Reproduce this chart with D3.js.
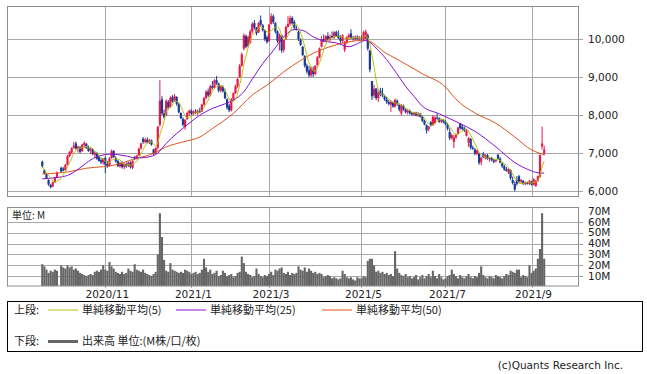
<!DOCTYPE html>
<html>
<head>
<meta charset="utf-8">
<script src="https://cdn.jsdelivr.net/npm/d3@7"></script>
<style>
  body { margin: 0; background: #fff; }
  svg text { font-family: "DejaVu Sans", sans-serif; fill: #222; }
  svg text.jp { font-family: "Noto Sans CJK JP", sans-serif; }
</style>
</head>
<body>
<svg id="chart" width="647" height="374"></svg>
<script>
// ======================
// DATA
// ======================

// daily candles [open, high, low, close]; day 8 = 2020/10/1, no trading
const candles = [
  [6780,6810,6620,6660],[6560,6580,6450,6480],[6460,6470,6330,6350],[6300,6320,6150,6180],
  [6170,6200,6080,6110],[6130,6260,6110,6240],[6240,6370,6220,6350],[6380,6520,6360,6500],
  null,[6620,6650,6500,6520],[6600,6640,6530,6550],[6560,6720,6540,6700],
  [6700,6960,6690,6930],[6930,7060,6900,7040],[7020,7160,6990,7140],[7150,7300,7120,7200],
  [7260,7310,7100,7120],[7120,7200,7020,7180],[7160,7190,7000,7040],[7060,7250,7040,7230],
  [7220,7310,7150,7280],[7250,7270,7120,7140],[7150,7200,7040,7060],[7080,7150,6980,7120],
  [7100,7130,6950,6980],[6960,7050,6880,7020],[7000,7040,6830,6860],[6900,6950,6780,6800],
  [6820,6870,6720,6760],[6760,6880,6700,6850],[6880,6920,6480,6700],[6720,6800,6620,6660],
  [6680,6900,6650,6870],[6880,7100,6860,7060],[7060,7090,6880,6900],[6880,6920,6760,6790],
  [6800,6830,6640,6660],[6660,6780,6620,6750],[6740,6800,6600,6640],[6640,6750,6580,6720],
  [6720,6760,6620,6660],[6680,6790,6640,6760],[6760,6790,6600,6640],[6620,6820,6580,6800],
  [6900,6930,6820,6850],[6860,6960,6840,6940],[6950,7150,6930,7120],[7130,7280,7100,7260],
  [7380,7430,7250,7300],[7300,7400,7260,7360],[7360,7420,7260,7290],[7300,7380,7240,7340],
  [7340,7360,7200,7230],[7100,7120,6960,6990],[7000,7160,6980,7140],[7150,7720,7100,7700],
  [7750,8920,7700,8380],[8420,8500,8000,8050],[8050,8150,7900,7950],[8000,8420,7980,8380],
  [8350,8400,8150,8200],[8220,8500,8200,8460],[8480,8530,8330,8360],[8380,8560,8350,8500],
  [8480,8500,8250,8300],[8300,8320,8050,8080],[8060,8080,7900,7920],[7900,7950,7700,7750],
  [7700,7900,7620,7880],[7900,8100,7880,8060],[8060,8150,7990,8120],[8120,8160,8000,8040],
  [8040,8130,7990,8100],[8100,8160,8030,8060],[8060,8150,8000,8120],[8120,8200,8050,8080],
  [8100,8300,8080,8280],[8280,8480,8250,8450],[8450,8660,8420,8620],[8620,8700,8480,8520],
  [8530,8800,8500,8760],[8770,8900,8680,8720],[8720,8950,8700,8920],[8920,9030,8800,8840],
  [8830,8860,8600,8650],[8650,8790,8600,8760],[8750,8780,8600,8630],[8620,8700,8420,8450],
  [8420,8450,8150,8200],[8250,8300,8080,8130],[8130,8450,8100,8420],[8420,8600,8400,8580],
  [8580,8800,8560,8760],[8760,8980,8720,8950],[9000,9350,8980,9300],[9300,9650,9280,9600],
  [9750,10150,9700,10100],[10080,10120,9760,9800],[9820,10100,9780,10050],[9900,10250,9880,10200],
  [10200,10450,10150,10400],[10420,10500,10250,10300],[10300,10320,10100,10150],[10180,10450,10160,10420],
  [10500,10620,10350,10380],[10360,10400,10200,10230],[10220,10260,9950,10000],[10050,10100,9880,9920],
  [9950,10400,9930,10380],[10400,10680,10380,10600],[10600,10650,10400,10450],[10420,10450,10150,10200],
  [10200,10230,9900,9950],[9920,10150,9700,10100],[10100,10120,9640,9700],[9720,10000,9650,9980],
  [10000,10350,9980,10320],[10320,10600,10300,10400],[10400,10620,10350,10550],[10560,10600,10380,10420],
  [10450,10500,10250,10300],[10280,10350,10230,10260],[10200,10220,9950,10000],[9980,10020,9820,9850],
  [9800,9820,9550,9580],[9550,9580,9250,9300],[9300,9360,9100,9150],[9180,9300,9000,9050],
  [9050,9280,9000,9250],[9200,9280,9000,9080],[9080,9320,9050,9300],[9320,9550,9300,9520],
  [9520,9780,9500,9750],[9800,10080,9780,10000],[10000,10120,9920,9960],[9960,10100,9920,10080],
  [10080,10180,9950,10000],[10000,10120,9940,10060],[10080,10200,10020,10040],[10050,10210,10000,10180],
  [10180,10220,10060,10080],[10100,10230,10000,10030],[10030,10100,9900,9950],[9950,10130,9900,10100],
  [9720,9950,9660,9900],[9900,10080,9880,10050],[10050,10150,9980,10100],[10150,10260,10000,10020],
  [10030,10080,9960,10000],[10000,10100,9960,10060],[10060,10100,9980,10010],[10000,10080,9960,10040],
  [10040,10100,9980,10020],[10000,10220,9980,10180],[10020,10250,10000,10200],[10100,10150,9700,9750],
  [9700,9720,9130,9200],[8900,8900,8400,8500],[8520,8800,8450,8700],[8700,8720,8400,8450],
  [8450,8650,8350,8600],[8650,8720,8500,8550],[8580,8720,8480,8520],[8500,8540,8380,8420],
  [8420,8480,8300,8350],[8350,8400,8260,8300],[8280,8400,8090,8350],[8350,8360,8200,8230],
  [8230,8440,8200,8400],[8380,8420,8250,8300],[8280,8310,8100,8150],[8050,8300,8000,8250],
  [8250,8280,8120,8150],[8150,8180,8050,8080],[8080,8170,8020,8120],[8120,8150,8020,8050],
  [8060,8090,7990,8020],[8020,8090,7980,8070],[8070,8090,7970,8000],[8000,8080,7960,8040],
  [8040,8060,7940,7960],[7960,7990,7820,7850],[7850,7880,7740,7760],[7740,7760,7520,7600],
  [7640,7720,7580,7700],[7820,7850,7700,7740],[7740,8000,7720,7960],[7800,7980,7760,7940],
  [7940,8050,7880,7920],[7920,7950,7800,7830],[7840,7900,7790,7870],[7880,7900,7790,7820],
  [7840,7870,7740,7760],[7750,7800,7600,7650],[7560,7660,7350,7400],[7400,7520,7360,7480],
  [7300,7480,7140,7420],[7420,7520,7380,7500],[7520,7700,7500,7680],[7780,7800,7620,7660],
  [7700,7760,7600,7640],[7650,7700,7560,7600],[7460,7640,7440,7600],[7280,7430,7170,7400],
  [7380,7400,7100,7150],[7150,7200,7090,7120],[7100,7140,6950,7000],[6980,7100,6960,7080],
  [7000,7020,6700,6750],[6780,6920,6690,6880],[6980,7040,6880,6900],[6880,6980,6840,6950],
  [6950,6980,6830,6850],[6850,6900,6780,6880],[6880,6910,6790,6820],[6820,6860,6740,6780],
  [6790,6850,6760,6830],[6960,6990,6830,6860],[6860,6900,6740,6760],[6740,6760,6620,6660],
  [6660,6700,6540,6580],[6580,6640,6520,6540],[6500,6610,6460,6590],[6560,6580,6300,6350],
  [6300,6390,6180,6220],[6200,6260,6000,6050],[6300,6400,6150,6200],[6400,6430,6220,6260],
  [6260,6330,6200,6300],[6280,6300,6170,6200],[6200,6260,6160,6230],[6230,6260,6180,6200],
  [6200,6300,6170,6280],[6260,6280,6150,6180],[6180,6350,6160,6320],[6140,6300,6120,6280],
  [6280,6420,6250,6400],[6380,6980,6360,6950],[7180,7700,7100,7260],[7000,7200,6950,7100]
];

// daily volume, millions of shares
const volumes = [
  21,19,16,13,15,14,16,15,0,20,18,17,20,18,19,16,17,15,13,12,
  11,10,11,12,11,14,15,14,16,20,16,15,23,19,17,14,13,12,14,12,
  13,17,15,14,21,16,15,14,16,13,12,11,10,12,14,30,68,46,25,15,
  14,22,16,15,14,13,14,13,16,15,14,12,13,14,12,13,16,26,18,14,
  16,12,13,15,10,11,15,13,10,11,12,9,10,13,14,28,22,14,12,11,
  9,10,17,12,10,9,11,10,12,14,11,16,15,17,18,13,12,14,11,13,
  12,13,19,16,15,18,14,17,15,13,14,12,13,12,9,10,11,10,8,9,
  8,7,8,15,12,9,8,9,7,6,9,8,8,10,9,24,26,26,20,14,
  15,13,14,12,13,11,12,10,33,17,13,11,10,12,9,10,8,9,11,7,
  9,11,8,10,12,9,15,10,8,12,9,7,8,10,11,16,12,10,8,11,
  9,8,10,12,9,8,10,9,13,19,11,9,8,10,9,8,11,10,9,8,
  10,12,11,15,14,13,16,16,9,11,10,9,20,13,15,17,26,35,68,26
];

// moving averages read at anchor days
const ma25Days = [0, 6, 12, 17, 22, 27, 33, 39, 45, 50, 55, 59, 64, 69, 75, 81, 88, 91, 96, 100,
  105, 110, 115, 120, 124, 129, 134, 140, 146, 150, 154, 159, 164, 170, 173, 177, 181, 189, 199, 206,
  216, 225, 232, 236, 239];
const ma25 = [6330, 6360, 6420, 6580, 6790, 6930, 6980, 6940, 6880, 6900, 7010, 7260, 7520, 7750, 8000, 8180, 8320, 8400, 8620, 8950,
  9360, 9700, 10060, 10250, 10230, 10060, 9950, 9900, 9800, 9880, 9970, 9760, 9460, 9000, 8760, 8500, 8240, 8040, 7780, 7580,
  7170, 6760, 6560, 6490, 6480];

const ma50Days = [0, 13, 21, 29, 35, 43, 53, 59, 67, 75, 81, 91, 100, 108, 115, 123, 131, 137, 145, 154,
  164, 170, 181, 192, 197, 206, 216, 225, 233, 237, 239];
const ma50 = [6460, 6520, 6610, 6650, 6700, 6840, 7000, 7170, 7300, 7430, 7650, 8050, 8530, 8830, 9140, 9440, 9680, 9800, 9920, 9970,
  9620, 9440, 9090, 8740, 8420, 8060, 7790, 7430, 7090, 7000, 6960];

// x axis: month labels and the day each month starts
const monthLabels = ["2020/11", "2021/1", "2021/3", "2021/5", "2021/7", "2021/9"];
const monthStartDays = [30, 71, 108, 152, 192, 233];

const priceTicks = [6000, 7000, 8000, 9000, 10000];
const volumeTicks = [10, 20, 30, 40, 50, 60, 70];

// ======================
// SETUP
// ======================

const svg = d3.select("#chart");
const left = 7, right = 578;
const priceTop = 6, priceBottom = 196;
const volTop = 207.5, volBottom = 286;

const upColor = "#e8194b";
const downColor = "#1b3a94";
const gridColor = "#a8a8a8";
const borderColor = "#8e8e8e";
const ma5Color = "#b4c40a";
const ma25Color = "#8a10cc";
const ma50Color = "#e2521c";

const x = d3.scaleLinear().domain([-16.8, 255.1]).range([left, right]);
const yPrice = d3.scaleLinear().domain([5880, 10870]).range([priceBottom, priceTop]);
const yVol = d3.scaleLinear().domain([0, 70]).range([287, 211]);

const bars = candles.map((c, i) => c && { day: i, o: c[0], h: c[1], l: c[2], c: c[3] })
  .filter(d => d);

// 5-day simple moving average of closes
const ma5 = bars.map((d, k) => {
  const win = bars.slice(Math.max(0, k - 4), k + 1);
  return { day: d.day, v: d3.mean(win, w => w.c) };
});

// ======================
// PRICE PANEL
// ======================

const pricePanel = svg.append("g");

pricePanel.selectAll(".hgrid")
  .data(priceTicks)
  .enter()
  .append("line")
  .attr("x1", left).attr("x2", right + 5)
  .attr("y1", d => Math.round(yPrice(d)) + 0.5)
  .attr("y2", d => Math.round(yPrice(d)) + 0.5)
  .attr("stroke", gridColor);

pricePanel.selectAll(".vgrid")
  .data(monthStartDays)
  .enter()
  .append("line")
  .attr("x1", d => Math.round(x(d)) + 0.5)
  .attr("x2", d => Math.round(x(d)) + 0.5)
  .attr("y1", priceTop).attr("y2", priceBottom)
  .attr("stroke", gridColor);

pricePanel.append("rect")
  .attr("x", left + 0.5).attr("y", priceTop + 0.5)
  .attr("width", right - left).attr("height", priceBottom - priceTop)
  .attr("fill", "none").attr("stroke", borderColor);

pricePanel.selectAll(".plabel")
  .data(priceTicks)
  .enter()
  .append("text")
  .attr("x", 588)
  .attr("y", d => yPrice(d))
  .attr("dy", "0.36em")
  .attr("font-size", 10.5)
  .text(d => d3.format(",")(d));

// candles
const candleG = pricePanel.append("g");
candleG.selectAll(".wick")
  .data(bars)
  .enter()
  .append("line")
  .attr("x1", d => x(d.day)).attr("x2", d => x(d.day))
  .attr("y1", d => yPrice(d.h)).attr("y2", d => yPrice(d.l))
  .attr("stroke", d => d.c >= d.o ? upColor : downColor)
  .attr("stroke-width", 1);

candleG.selectAll(".body")
  .data(bars)
  .enter()
  .append("rect")
  .attr("x", d => x(d.day) - 1.1)
  .attr("width", 2.2)
  .attr("y", d => yPrice(Math.max(d.o, d.c)))
  .attr("height", d => Math.max(1, Math.abs(yPrice(d.o) - yPrice(d.c))))
  .attr("fill", d => d.c >= d.o ? upColor : downColor);

// moving averages
const maLine = d3.line()
  .x(d => x(d[0]))
  .y(d => yPrice(d[1]))
  .curve(d3.curveMonotoneX);

pricePanel.append("path")
  .datum(ma50Days.map((d, i) => [d, ma50[i]]))
  .attr("d", maLine)
  .attr("fill", "none").attr("stroke", ma50Color).attr("stroke-width", 1);

pricePanel.append("path")
  .datum(ma25Days.map((d, i) => [d, ma25[i]]))
  .attr("d", maLine)
  .attr("fill", "none").attr("stroke", ma25Color).attr("stroke-width", 1);

pricePanel.append("path")
  .datum(ma5.map(d => [d.day, d.v]))
  .attr("d", maLine)
  .attr("fill", "none").attr("stroke", ma5Color).attr("stroke-width", 1);

// ======================
// VOLUME PANEL
// ======================

const volPanel = svg.append("g");

volPanel.selectAll(".hgrid")
  .data(volumeTicks.slice(0, -1))
  .enter()
  .append("line")
  .attr("x1", left).attr("x2", right + 5)
  .attr("y1", d => Math.round(yVol(d)) + 0.5)
  .attr("y2", d => Math.round(yVol(d)) + 0.5)
  .attr("stroke", gridColor);

volPanel.selectAll(".vgrid")
  .data(monthStartDays)
  .enter()
  .append("line")
  .attr("x1", d => Math.round(x(d)) + 0.5)
  .attr("x2", d => Math.round(x(d)) + 0.5)
  .attr("y1", volTop).attr("y2", volBottom + 2)
  .attr("stroke", gridColor);

volPanel.selectAll(".vol")
  .data(volumes.map((v, i) => ({ day: i, v })).filter(d => d.v > 0))
  .enter()
  .append("rect")
  .attr("x", d => x(d.day) - 1.05)
  .attr("width", 2.1)
  .attr("y", d => yVol(d.v))
  .attr("height", d => volBottom - yVol(d.v))
  .attr("fill", "#666");

volPanel.append("rect")
  .attr("x", left + 0.5).attr("y", volTop)
  .attr("width", right - left).attr("height", volBottom - volTop)
  .attr("fill", "none").attr("stroke", borderColor);

volPanel.selectAll(".vlabel")
  .data(volumeTicks)
  .enter()
  .append("text")
  .attr("x", 588)
  .attr("y", d => yVol(d))
  .attr("dy", "0.36em")
  .attr("font-size", 10.5)
  .text(d => d + "M");

volPanel.append("text")
  .attr("class", "jp")
  .attr("x", 12).attr("y", 215)
  .attr("dy", "0.36em")
  .attr("font-size", 10)
  .text("単位: M");

// month labels
svg.selectAll(".xlabel")
  .data(monthStartDays)
  .enter()
  .append("text")
  .attr("x", d => x(d) + 2)
  .attr("y", 294)
  .attr("dy", "0.36em")
  .attr("text-anchor", "middle")
  .attr("font-size", 10.5)
  .text((d, i) => monthLabels[i]);

// ======================
// LEGEND
// ======================

const legend = svg.append("g");
legend.append("rect")
  .attr("x", 7.5).attr("y", 301.5)
  .attr("width", 635).attr("height", 50)
  .attr("fill", "none").attr("stroke", "#000");

const legendItems = [
  { x: 48, row: 310, color: ma5Color, width: 1, label: "単純移動平均(5)" },
  { x: 176, row: 310, color: ma25Color, width: 1, label: "単純移動平均(25)" },
  { x: 322, row: 310, color: ma50Color, width: 1, label: "単純移動平均(50)" },
  { x: 48, row: 341.5, color: "#666", width: 3, label: "出来高 単位:(M株/口/枚)" }
];

legend.selectAll(".lline")
  .data(legendItems)
  .enter()
  .append("line")
  .attr("x1", d => d.x).attr("x2", d => d.x + 30)
  .attr("y1", d => d.row).attr("y2", d => d.row)
  .attr("stroke", d => d.color).attr("stroke-width", d => d.width);

legend.selectAll(".ltext")
  .data(legendItems)
  .enter()
  .append("text")
  .attr("class", "jp")
  .attr("x", d => d.x + 34)
  .attr("y", d => d.row)
  .attr("dy", "0.36em")
  .attr("font-size", 11)
  .text(d => d.label);

legend.selectAll(".lrow")
  .data([["上段:", 310], ["下段:", 341.5]])
  .enter()
  .append("text")
  .attr("class", "jp")
  .attr("x", 14).attr("y", d => d[1])
  .attr("dy", "0.36em")
  .attr("font-size", 11)
  .text(d => d[0]);

svg.append("text")
  .attr("x", 623).attr("y", 365)
  .attr("dy", "0.36em")
  .attr("text-anchor", "end")
  .attr("font-family", "Liberation Sans, sans-serif")
  .attr("font-size", 10.5)
  .attr("fill", "#333")
  .text("(c)Quants Research Inc.");
</script>
</body>
</html>
